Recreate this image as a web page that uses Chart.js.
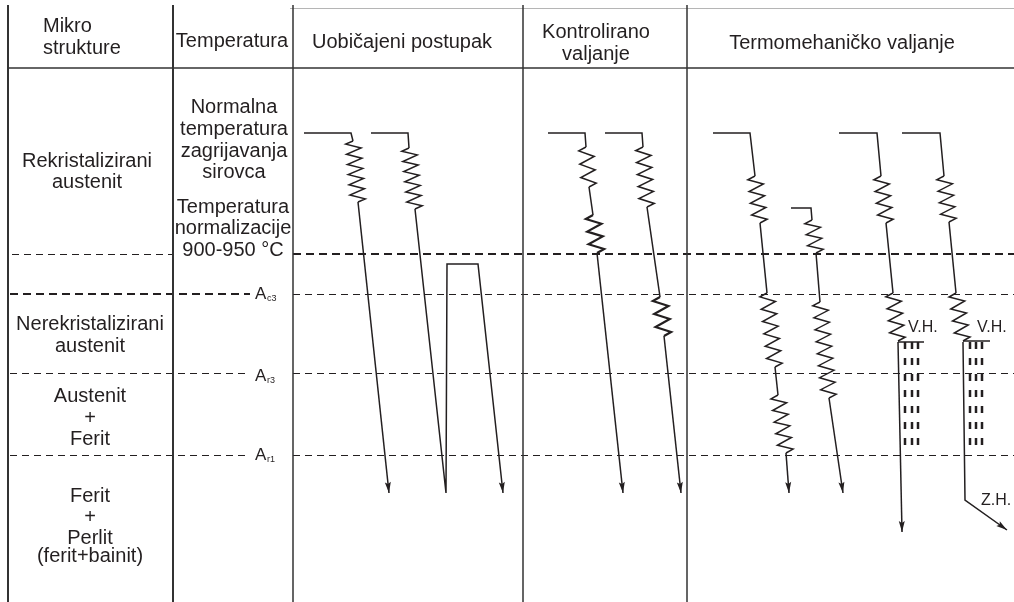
<!DOCTYPE html>
<html>
<head>
<meta charset="utf-8">
<title>Mikrostrukture i postupci valjanja</title>
<script src="https://cdn.jsdelivr.net/npm/chart.js@4.4.1/dist/chart.umd.min.js"></script>
<style>
  html, body { margin: 0; padding: 0; background: #fff; }
  canvas { display: block; }
</style>
</head>
<body>
<canvas id="diagram" width="1014" height="602"></canvas>
<script>
/**
 * Shematski prikaz: mikrostrukture, temperature i tri postupka valjanja.
 * Sve linije idu kroz x/y skale Chart.js-a (koordinate dijagrama 0..1014 x 0..602).
 */

const INK = '#231f20';

// ─── Tablica ───────────────────────────────────────────────────

const columnX = [8, 173, 293, 523, 687];
const headerY = 68;

const headerTexts = ['Mikro', 'strukture', 'Temperatura', 'Uobičajeni postupak',
  'Kontrolirano', 'valjanje', 'Termomehaničko valjanje'];
const headerAnchors = [[43, 32], [43, 54], [232, 47], [402, 48], [596, 38], [596, 60], [842, 49]];

const phaseTexts = ['Rekristalizirani', 'austenit', 'Nerekristalizirani', 'austenit',
  'Austenit', '+', 'Ferit', 'Ferit', '+', 'Perlit', '(ferit+bainit)'];
const phaseAnchors = [[87, 167], [87, 188], [90, 330], [90, 352], [90, 402], [90, 424],
  [90, 445], [90, 502], [90, 523], [90, 544], [90, 562]];

const tempTexts = ['Normalna', 'temperatura', 'zagrijavanja', 'sirovca',
  'Temperatura', 'normalizacije', '900-950 °C'];
const tempAnchors = [[234, 113], [234, 135], [234, 157], [234, 178], [233, 213], [233, 234], [233, 256]];

// kritične temperature (razine crtkanih linija)
const levelY = { normalizacija: 254, Ac3: 294, Ar3: 373, Ar1: 455 };
const levelNames = ['c3', 'r3', 'r1'];
const levelLabelY = [299, 381, 460];

// ─── Uobičajeni postupak ───────────────────────────────────────

const u1Top = [[304, 133], [351, 133], [353, 141]];
const u1Spring = [[353, 141], [358, 202]];
const u1Cool = [[358, 202], [389, 493]];

const u2Top = [[371, 133], [408, 133], [409, 148]];
const u2Spring = [[409, 148], [415, 209]];
const u2Cool = [[415, 209], [446, 493], [447, 264], [478, 264], [503, 493]];

// ─── Kontrolirano valjanje ─────────────────────────────────────

const k1Top = [[548, 133], [585, 133], [586, 147]];
const k1Spring1 = [[586, 147], [589, 187]];
const k1Mid = [[589, 187], [593, 215]];
const k1Spring2 = [[593, 215], [597, 253]];
const k1Cool = [[597, 253], [623, 493]];

const k2Top = [[605, 133], [642, 133], [643, 147]];
const k2Spring1 = [[643, 147], [647, 207]];
const k2Mid = [[647, 207], [660, 297]];
const k2Spring2 = [[660, 297], [664, 336]];
const k2Cool = [[664, 336], [681, 493]];

// ─── Termomehaničko valjanje ───────────────────────────────────

const t1Top = [[713, 133], [750, 133], [755, 176]];
const t1Spring1 = [[755, 176], [760, 223]];
const t1Mid1 = [[760, 223], [767, 293]];
const t1Spring2 = [[767, 293], [775, 367]];
const t1Mid2 = [[775, 367], [778, 395]];
const t1Spring3 = [[778, 395], [786, 453]];
const t1Cool = [[786, 453], [789, 493]];

const t2Top = [[791, 208], [811, 208], [812, 220]];
const t2Spring1 = [[812, 220], [816, 253]];
const t2Mid = [[816, 253], [820, 302]];
const t2Spring2 = [[820, 302], [829, 398]];
const t2Cool = [[829, 398], [843, 493]];

const t3Top = [[839, 133], [877, 133], [881, 176]];
const t3Spring1 = [[881, 176], [886, 223]];
const t3Mid = [[886, 223], [893, 293]];
const t3Spring2 = [[893, 293], [898, 341]];
const t3Hold = [[898, 342], [924, 342]];
const t3Cool = [[898, 342], [902, 532]];

const t4Top = [[902, 133], [940, 133], [944, 176]];
const t4Spring1 = [[944, 176], [949, 222]];
const t4Mid = [[949, 222], [956, 293]];
const t4Spring2 = [[956, 293], [963, 341]];
const t4Hold = [[963, 341], [990, 341]];
const t4Cool = [[963, 342], [965, 500], [1007, 530]];

// šrafura ispod V.H. (x stupaca, od-do y)
const hatch1X = [905, 912, 918];
const hatch2X = [970, 976, 982];
const hatchY = [342, 447];

const markTexts = ['V.H.', 'V.H.', 'Z.H.'];
const markAnchors = [[908, 332], [977, 332], [981, 505]];

// ─── Datasets ──────────────────────────────────────────────────

function line(points, opts = {}) {
  return Object.assign({
    data: points.map(([x, y]) => ({ x, y })),
    showLine: true,
    pointRadius: 0,
    borderColor: INK,
    backgroundColor: INK,
    borderWidth: 1.5,
    tension: 0,
    clip: false,
  }, opts);
}

const spring = (points, teeth, width = 1.5) =>
  line(points, { showLine: false, spring: teeth, springWidth: width });

// tanke crtkane linije: pola piksela pomaka da ostanu oštre
function hDash(x0, x1, y, heavy) {
  return heavy
    ? line([[x0, y], [x1, y]], { borderWidth: 2, borderDash: [8, 5] })
    : line([[x0, y + 0.5], [x1, y + 0.5]], { borderWidth: 1, borderDash: [7, 5] });
}

const datasets = [];

// okvir tablice
columnX.forEach((x, i) => {
  datasets.push(line([[x, 5], [x, 602]], { borderWidth: i < 2 ? 2 : 1.5, borderColor: '#333' }));
});
datasets.push(line([[8, headerY], [1014, headerY]], { borderWidth: 1.5, borderColor: '#333' }));
datasets.push(line([[290, 8.5], [1014, 8.5]], { borderWidth: 1, borderColor: '#b5b5b5' }));

// crtkane razine
datasets.push(hDash(12, 172, levelY.normalizacija, false));
datasets.push(hDash(293, 1014, levelY.normalizacija, true));
datasets.push(hDash(10, 250, levelY.Ac3, true));
datasets.push(hDash(293, 1014, levelY.Ac3, false));
['Ar3', 'Ar1'].forEach(k => {
  datasets.push(hDash(10, 250, levelY[k], false));
  datasets.push(hDash(293, 1014, levelY[k], false));
});

// postupci
[u1Top, u2Top, k1Top, k2Top, t1Top, t2Top, t3Top, t4Top,
 k1Mid, k2Mid, t1Mid1, t1Mid2, t2Mid, t3Mid, t4Mid, t3Hold, t4Hold]
  .forEach(p => datasets.push(line(p)));

[u1Cool, u2Cool, k1Cool, k2Cool, t1Cool, t2Cool, t3Cool, t4Cool]
  .forEach(p => datasets.push(line(p, { arrow: true })));

datasets.push(spring(u1Spring, 6), spring(u2Spring, 6));
datasets.push(spring(k1Spring1, 3), spring(k1Spring2, 3, 2.2));
datasets.push(spring(k2Spring1, 5), spring(k2Spring2, 3, 2.2));
datasets.push(spring(t1Spring1, 4), spring(t1Spring2, 6), spring(t1Spring3, 5));
datasets.push(spring(t2Spring1, 3), spring(t2Spring2, 8));
datasets.push(spring(t3Spring1, 4), spring(t3Spring2, 4));
datasets.push(spring(t4Spring1, 4), spring(t4Spring2, 4));

[...hatch1X, ...hatch2X].forEach(x => {
  datasets.push(line([[x, hatchY[0]], [x, hatchY[1]]], { borderWidth: 2.5, borderDash: [7, 9] }));
});

// ─── Plugins ───────────────────────────────────────────────────

const springPlugin = {
  id: 'springs',
  afterDatasetsDraw(chart) {
    const ctx = chart.ctx;
    chart.data.datasets.forEach((ds, i) => {
      if (!ds.spring) return;
      const [a, b] = chart.getDatasetMeta(i).data;
      const dx = b.x - a.x, dy = b.y - a.y;
      const len = Math.hypot(dx, dy);
      const nx = -dy / len, ny = dx / len;
      const amp = 7.5;
      const steps = ds.spring * 2;
      ctx.save();
      ctx.strokeStyle = INK;
      ctx.lineWidth = ds.springWidth;
      ctx.beginPath();
      ctx.moveTo(a.x, a.y);
      for (let s = 0; s < steps; s++) {
        const t = (s + 0.5) / steps;
        const side = s % 2 === 0 ? 1 : -1;
        ctx.lineTo(a.x + dx * t + nx * amp * side, a.y + dy * t + ny * amp * side);
      }
      ctx.lineTo(b.x, b.y);
      ctx.stroke();
      ctx.restore();
    });
  },
};

const arrowPlugin = {
  id: 'arrows',
  afterDatasetsDraw(chart) {
    const ctx = chart.ctx;
    chart.data.datasets.forEach((ds, i) => {
      if (!ds.arrow) return;
      const pts = chart.getDatasetMeta(i).data;
      const tip = pts[pts.length - 1], prev = pts[pts.length - 2];
      const ang = Math.atan2(tip.y - prev.y, tip.x - prev.x);
      const L = 11, W = 3;
      ctx.save();
      ctx.fillStyle = INK;
      ctx.translate(tip.x, tip.y);
      ctx.rotate(ang);
      ctx.beginPath();
      ctx.moveTo(0, 0);
      ctx.lineTo(-L, -W);
      ctx.lineTo(-L + 2, 0);
      ctx.lineTo(-L, W);
      ctx.closePath();
      ctx.fill();
      ctx.restore();
    });
  },
};

const textPlugin = {
  id: 'texts',
  afterDatasetsDraw(chart) {
    const { ctx, scales: { x, y } } = chart;
    const put = (text, [px, py], size, align = 'center') => {
      ctx.font = `${size}px "Liberation Sans", Arial, sans-serif`;
      ctx.textAlign = align;
      ctx.textBaseline = 'alphabetic';
      ctx.fillText(text, x.getPixelForValue(px), y.getPixelForValue(py));
    };
    ctx.save();
    ctx.fillStyle = INK;
    headerTexts.forEach((t, i) => put(t, headerAnchors[i], 20, i < 2 ? 'left' : 'center'));
    phaseTexts.forEach((t, i) => put(t, phaseAnchors[i], 20));
    tempTexts.forEach((t, i) => put(t, tempAnchors[i], 20));
    markTexts.forEach((t, i) => put(t, markAnchors[i], 16, 'left'));
    levelNames.forEach((sub, i) => {
      put('A', [255, levelLabelY[i]], 17, 'left');
      put(sub, [267, levelLabelY[i] + 2], 9, 'left');
    });
    ctx.restore();
  },
};

// ─── Init ──────────────────────────────────────────────────────

new Chart(document.getElementById('diagram'), {
  type: 'scatter',
  data: { datasets },
  options: {
    responsive: false,
    animation: false,
    layout: { padding: 0 },
    plugins: { legend: { display: false }, tooltip: { enabled: false } },
    scales: {
      x: { type: 'linear', min: 0, max: 1014, display: false },
      y: { type: 'linear', min: 0, max: 602, reverse: true, display: false },
    },
  },
  plugins: [springPlugin, arrowPlugin, textPlugin],
});
</script>
</body>
</html>
